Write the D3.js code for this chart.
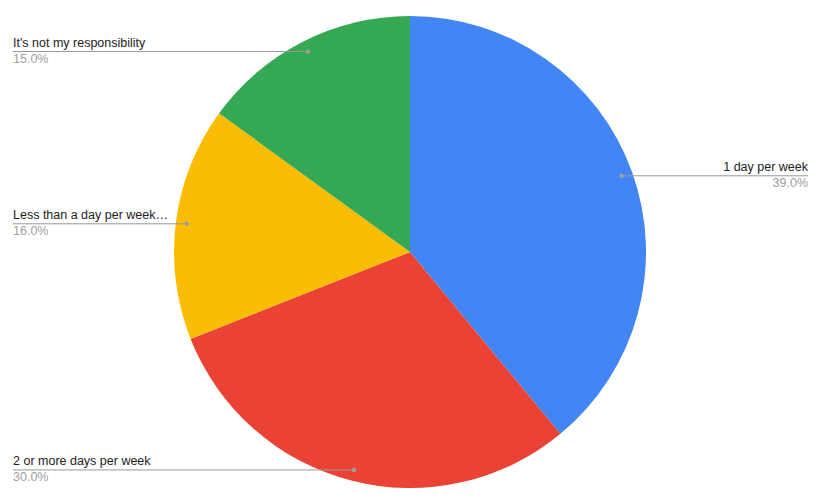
<!DOCTYPE html>
<html><head><meta charset="utf-8">
<script src="https://cdn.jsdelivr.net/npm/d3@7"></script>
<style>body{margin:0;background:#fff}svg{display:block}</style>
</head><body>
<svg id="c" width="823" height="504"></svg>
<script>
const categories = ["1 day per week", "2 or more days per week", "Less than a day per week…", "It's not my responsibility"];
const values = [39.0, 30.0, 16.0, 15.0];
const colors = ["#4285f4", "#ea4335", "#fbbc04", "#34a853"];
const labelSide = ["right", "left", "left", "left"];

const svg = d3.select("#c");
const cx = 410, cy = 252, R = 236;
const g = svg.append("g").attr("transform", `translate(${cx},${cy})`);
const pie = d3.pie().sort(null).value(d => d)(values);
const arc = d3.arc().innerRadius(0).outerRadius(R);
g.selectAll("path").data(pie).join("path")
  .attr("d", arc).attr("fill", (d, i) => colors[i]);

const dotArc = d3.arc().innerRadius(225).outerRadius(225);
const font = "Liberation Sans, Arial, sans-serif";
pie.forEach((d, i) => {
  const [px, py] = dotArc.centroid(d);
  const x = cx + px, y = cy + py;
  const right = labelSide[i] === "right";
  const x2 = right ? 808 : 13;
  svg.append("line").attr("x1", x).attr("y1", y).attr("x2", x2).attr("y2", y)
    .attr("stroke", "#999").attr("stroke-width", 1);
  svg.append("circle").attr("cx", x).attr("cy", y).attr("r", 2.2).attr("fill", "#9e9e9e");
  svg.append("text").attr("x", x2).attr("y", y - 5)
    .attr("text-anchor", right ? "end" : "start")
    .attr("font-family", font).attr("font-size", 12.5).attr("fill", "#222")
    .text(categories[i]);
  svg.append("text").attr("x", x2).attr("y", y + 11)
    .attr("text-anchor", right ? "end" : "start")
    .attr("font-family", font).attr("font-size", 12.5).attr("fill", "#9e9e9e")
    .text(d3.format(".1f")(values[i]) + "%");
});
</script>
</body></html>
